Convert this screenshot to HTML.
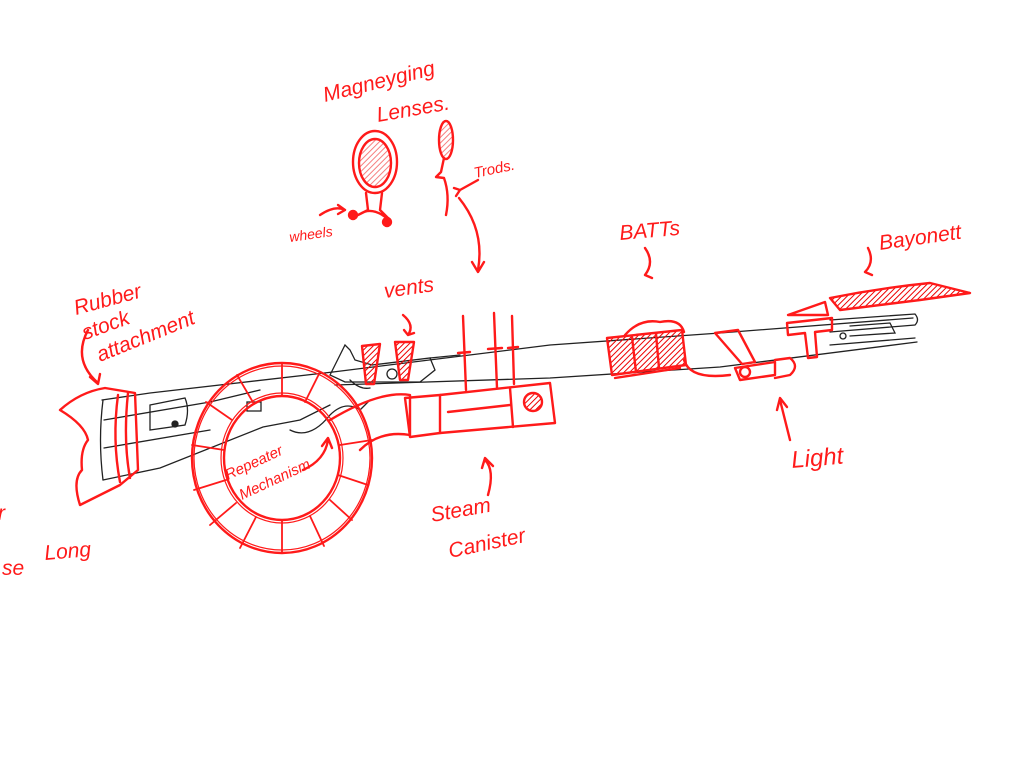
<!DOCTYPE html>
<html><head><meta charset="utf-8"><style>
html,body{margin:0;padding:0;background:#fff;width:1024px;height:768px;overflow:hidden}
svg{display:block}
text{font-family:"Liberation Sans",sans-serif;fill:#ff1a1a;font-style:italic}
</style></head><body>
<svg width="1024" height="768" viewBox="0 0 1024 768" xmlns="http://www.w3.org/2000/svg">
<defs>
<pattern id="h" width="4" height="4" patternUnits="userSpaceOnUse" patternTransform="rotate(45)"><line x1="0" y1="0" x2="0" y2="4" stroke="#e00" stroke-width="2"/></pattern>
</defs>
<rect width="1024" height="768" fill="#fff"/>
<g fill="none" stroke="#222" stroke-width="1.3" stroke-linecap="round">
<path d="M102,400 L150,393 L333,372"/>
<path d="M103,480 L160,468 L263,427 L300,420 L330,405"/>
<path d="M103,400 Q98,440 103,480"/>
<path d="M104,420 L210,402 L260,390"/>
<path d="M104,448 L210,430"/>
<path d="M150,405 L185,398 Q190,410 185,425 L150,430 Z"/>
<circle cx="175" cy="424" r="3" fill="#222"/>
<rect x="247" y="402" width="14" height="9"/>
<path d="M330,375 L340,355 L345,345 L350,350 L355,360 L372,365 L430,358 L435,370 L420,382 L345,382 Z"/>
<path d="M350,380 Q360,390 370,388"/>
<circle cx="392" cy="374" r="5"/>
<path d="M333,372 L550,345 L720,333 L913,318"/>
<path d="M335,385 L550,378 L720,367 L917,342"/>
<path d="M430,358 L460,355"/>
<path d="M830,320 L915,314 Q920,320 915,325 L830,332"/>
<path d="M830,345 L915,338"/>
<path d="M850,326 L890,323 L895,333 L850,336"/>
<circle cx="843" cy="336" r="3"/>
<path d="M290,430 Q310,440 330,415 Q345,400 360,410 L370,400"/>
</g>
<g fill="none" stroke="#ff1a1a" stroke-width="2.4" stroke-linecap="round" stroke-linejoin="round">
<path d="M60,410 Q80,392 105,388 L135,393 L138,470 L120,485 L80,505 Q72,480 82,470 Q80,450 88,440 Q85,425 60,410 Z"/>
<path d="M118,395 Q112,440 120,482"/>
<path d="M128,393 Q123,440 130,478"/>
<ellipse cx="282" cy="458" rx="90" ry="95"/>
<ellipse cx="282" cy="458" rx="88" ry="92" stroke-width="1.2"/>
<ellipse cx="282" cy="458" rx="58" ry="62"/>
<ellipse cx="282" cy="458" rx="61" ry="65" stroke-width="1.2"/>
<g stroke-width="1.8">
<path d="M282,363 L282,396 M237,375 L254,404 M206,402 L232,420 M192,445 L224,450 M194,490 L226,480 M210,525 L236,503 M240,548 L256,517 M282,553 L282,520 M324,546 L310,516 M352,520 L330,500 M368,485 L338,475 M372,440 L340,445 M320,372 L305,402"/>
</g>
<path d="M330,420 Q380,390 410,395 L410,435 Q380,430 360,450"/>
<path d="M405,398 L440,395 L550,383 L555,423 L440,433 L410,437 Z"/>
<path d="M440,395 L440,433 M510,388 L513,427"/>
<path d="M448,412 L510,405"/>
<circle cx="533" cy="402" r="9" fill="url(#h)"/>
<path d="M362,346 L380,344 L374,384 L366,384 Z" fill="url(#h)"/>
<path d="M395,342 L414,342 L408,380 L400,380 Z" fill="url(#h)"/>
<path d="M463,316 L466,390 M494,313 L497,388 M512,316 L514,384"/>
<path d="M458,353 L470,352 M488,349 L502,348 M508,348 L518,347"/>
<path d="M607,338 L682,330 L686,365 L612,375 Z" fill="url(#h)"/>
<path d="M615,378 L680,368"/>
<path d="M625,335 Q640,318 660,322 Q680,318 684,332"/>
<path d="M632,337 L636,372 M656,334 L659,368"/>
<path d="M684,360 Q690,380 730,375"/>
<path d="M715,333 L738,330 L755,362 L742,364 Z"/>
<path d="M735,368 L775,362 L775,375 L740,380 Z"/>
<circle cx="745" cy="372" r="5"/>
<path d="M775,360 L790,358 Q800,366 790,375 L775,378"/>
<path d="M787,323 L832,318 L832,330 L815,332 L817,357 L808,358 L805,333 L788,335 Z"/>
<path d="M788,315 L825,302 L828,315 Z"/>
<path d="M830,298 Q880,288 930,283 L970,293 L920,300 L840,310 Z" fill="url(#h)"/>
<ellipse cx="375" cy="162" rx="22" ry="31"/>
<ellipse cx="375" cy="163" rx="16" ry="24" fill="url(#h)" fill-opacity="0.5"/>
<path d="M366,193 L368,210 L358,215 M382,193 L380,210 L390,220 M360,214 Q372,206 388,219"/>
<circle cx="353" cy="215" r="4" fill="#ff1a1a"/>
<circle cx="387" cy="222" r="4" fill="#ff1a1a"/>
<ellipse cx="446" cy="140" rx="7" ry="19" fill="url(#h)" fill-opacity="0.5"/>
<path d="M444,158 L441,172 L436,177 L444,178 Q450,195 446,215"/>
<path d="M459,198 Q485,230 478,270 M472,262 L478,272 L484,262"/>
<path d="M478,180 L460,190 M454,188 L460,190 L456,196"/>
<path d="M320,215 Q335,205 345,210 M338,205 L345,210 L338,214"/>
<path d="M88,330 Q72,360 98,383 M90,377 L98,384 L100,374"/>
<path d="M403,315 Q415,325 408,335 L404,330 M408,335 L414,333"/>
<path d="M645,248 Q655,262 645,275 L652,278"/>
<path d="M868,248 Q875,262 865,272 L872,275"/>
<path d="M488,495 Q495,470 485,460 M482,468 L485,458 L493,466"/>
<path d="M790,440 Q785,420 780,400 M777,410 L780,398 L787,407"/>
<path d="M303,470 Q325,460 328,440 M322,446 L328,438 L332,448"/>
</g>
<g font-size="21">
<text transform="translate(325,102) rotate(-14)">Magneyging</text>
<text transform="translate(378,122) rotate(-10)">Lenses.</text>
<text transform="translate(475,178) rotate(-12)" font-size="15">Trods.</text>
<text transform="translate(290,242) rotate(-8)" font-size="14">wheels</text>
<text transform="translate(620,240) rotate(-5)">BATTs</text>
<text transform="translate(880,250) rotate(-8)">Bayonett</text>
<text transform="translate(76,315) rotate(-15)">Rubber</text>
<text transform="translate(85,340) rotate(-20)">stock</text>
<text transform="translate(100,362) rotate(-22)">attachment</text>
<text transform="translate(385,298) rotate(-8)">vents</text>
<text transform="translate(228,480) rotate(-25)" font-size="15">Repeater</text>
<text transform="translate(242,500) rotate(-25)" font-size="15">Mechanism</text>
<text transform="translate(432,522) rotate(-10)">Steam</text>
<text transform="translate(450,558) rotate(-12)">Canister</text>
<text transform="translate(792,468) rotate(-5)" font-size="24">Light</text>
<text transform="translate(45,560) rotate(-5)">Long</text>
<text transform="translate(2,575)">se</text>
<text transform="translate(-2,520)">r</text>
</g>
</svg>
</body></html>
